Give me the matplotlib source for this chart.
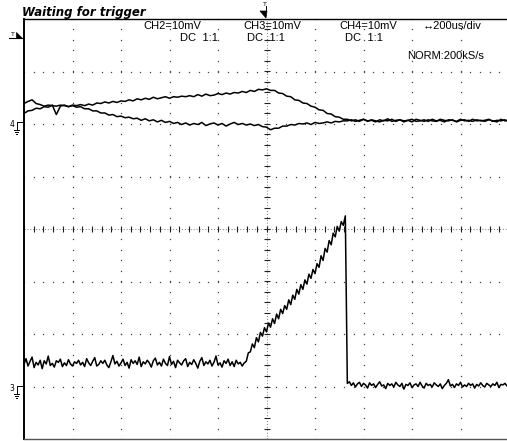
import numpy as np
import matplotlib
matplotlib.use("Agg")
import matplotlib.pyplot as plt
from matplotlib.lines import Line2D
from matplotlib.patches import Polygon

# ---- acquisition settings -------------------------------------------------
US_PER_DIV = 200          # horizontal scale, microseconds per division
MV_PER_DIV = 10           # vertical scale for every channel
CH_OFFSET_DIV = {"CH2": 2.0, "CH3": -3.0, "CH4": 2.0}   # ground levels

header_labels = ["CH2=10mV", "CH3=10mV", "CH4=10mV"]
coupling_label = "DC  1:1"
timebase_label = "\u2194200us/div"
mode_label = "NORM:200kS/s"
status_label = "Waiting for trigger"

# ---- captured samples (mV), evenly spaced over -1000 .. +1000 us -------------
ch2_mv = [
    3.9, 4.3, 4.6, 3.9, 3.7, 3.4, 3.6, 3.5, 3.4, 3.6, 3.5, 3.3, 3.6, 3.5, 3.7, 3.5, 3.8, 3.6, 4.0, 3.9,
    4.2, 4.0, 4.3, 4.1, 4.4, 4.3, 4.6, 4.4, 4.8, 4.6, 4.9, 4.7, 5.1, 4.8, 5.0, 5.2, 4.9, 5.2, 5.1, 5.3,
    5.2, 5.4, 5.2, 5.6, 5.3, 5.7, 5.4, 5.5, 5.8, 5.6, 5.9, 5.7, 6.0, 5.9, 6.2, 6.0, 6.4, 6.2, 6.6, 6.5,
    6.7, 6.4, 6.4, 5.9, 5.8, 5.3, 5.2, 4.6, 4.5, 4.0, 3.9, 3.4, 3.2, 2.7, 2.6, 2.0, 1.9, 1.4, 1.3, 0.9,
    0.9, 0.6, 0.8, 0.5, 0.9, 0.6, 0.7, 0.4, 0.8, 0.6, 1.0, 0.5, 0.7, 0.8, 0.4, 0.7, 0.9, 0.5, 0.6, 0.8,
    0.5, 0.9, 0.6, 0.7, 0.4, 0.8, 0.7, 0.5, 0.9, 0.6, 0.7, 0.5, 0.8, 0.6, 0.7, 0.9, 0.5, 0.7, 0.6, 0.8, 0.4,
]

ch4_mv = [
    2.0, 2.5, 2.6, 3.0, 2.9, 3.3, 3.2, 3.6, 1.8, 3.4, 3.6, 3.3, 3.5, 3.2, 3.3, 2.9, 2.9, 2.5, 2.5, 2.1,
    2.1, 1.7, 1.8, 1.4, 1.5, 1.2, 1.3, 1.0, 1.1, 0.7, 1.0, 0.6, 0.8, 0.4, 0.7, 0.3, 0.5, 0.1, 0.3, -0.1,
    0.2, -0.2, 0.1, -0.1, 0.3, -0.3, 0.0, 0.2, -0.2, 0.1, -0.4, 0.0, 0.3, -0.1, 0.1, -0.2, 0.0, -0.3, -0.1, -0.5,
    -0.6, -1.1, -0.8, -0.8, -0.4, -0.4, -0.1, -0.2, 0.1, 0.0, 0.2, -0.1, 0.3, 0.1, 0.2, 0.4, 0.2, 0.5, 0.4, 0.6,
    0.6, 0.8, 0.5, 0.7, 0.9, 0.5, 0.8, 0.6, 0.4, 0.7, 0.6, 0.9, 0.5, 0.8, 0.6, 0.7, 0.4, 0.9, 0.7, 0.5,
    0.8, 0.6, 0.5, 0.9, 0.7, 0.6, 0.8, 0.4, 0.7, 0.8, 0.5, 0.9, 0.6, 0.7, 0.5, 0.8, 0.6, 0.4, 0.9, 0.6, 0.7,
]

ch3_mv = [
    # quiet level before the ramp
    4.2, 5.3, 3.9, 4.8, 5.6, 3.6, 4.6, 4.1, 5.0, 3.4, 4.9, 4.3, 5.8, 4.0, 4.4, 3.7, 4.9, 4.6, 5.2, 3.8,
    4.5, 4.0, 5.1, 4.3, 3.9, 4.7, 4.4, 5.0, 4.1, 4.6, 3.8, 5.3, 4.5, 4.0, 4.8, 5.5, 3.9, 4.2, 4.9, 4.4,
    5.0, 4.1, 3.6, 4.7, 5.9, 4.3, 4.8, 3.9, 4.5, 5.2, 4.0, 4.6, 3.5, 5.1, 4.4, 4.9, 4.2, 5.6, 3.8, 4.7,
    4.3, 5.0, 4.5, 3.7, 4.9, 5.4, 4.1, 4.6, 3.9, 5.2, 4.4, 4.0, 5.7, 4.2, 4.8, 3.6, 5.0, 4.5, 4.1, 4.9,
    5.3, 3.8, 4.6, 4.2, 5.1, 4.4, 3.5, 4.8, 5.5, 4.0, 4.7, 4.3, 5.0, 3.9, 4.6, 5.8, 4.1, 4.5, 3.7, 4.9,
    4.4, 5.2, 4.0, 4.7, 3.8, 5.0, 4.3, 4.6, 3.9, 4.5,
    # ramp
    4.8, 6.4, 6.6, 8.1, 7.4, 9.3, 8.5, 10.3, 9.6, 11.2, 10.4, 12.1, 11.3, 12.9, 12.0, 13.8, 12.9, 14.7, 13.9, 15.4,
    14.7, 16.5, 15.6, 17.4, 16.6, 18.5, 17.6, 19.4, 18.5, 20.3, 19.5, 21.4, 20.6, 22.3, 21.5, 23.4, 22.7, 24.9, 24.0, 26.3,
    25.6, 27.8, 27.0, 29.2, 28.5, 30.5, 29.6, 31.4, 30.7, 32.5,
    # release
    0.6,
    0.9, 0.2, 0.7, -0.1, 0.5, 0.8, 0.0, 0.6, 0.3, -0.3, 0.7, 0.2, 0.5, -0.2, 0.4, 0.9, 0.1, 0.3, -0.4, 0.6,
    0.2, 0.5, -0.1, 0.8, 0.3, 0.0, 0.6, -0.5, 0.4, 0.2, 0.7, -0.2, 0.3, 0.5, 0.0, 0.8, 0.1, -0.3, 0.6, 0.2,
    0.4, -0.1, 0.7, 0.3, 0.0, 0.5, -0.4, 0.2, 0.6, 1.3, 0.1, 0.4, -0.2, 0.5, 0.2, 0.8, -0.1, 0.3, 0.0, 0.6,
    0.2, 0.5, -0.3, 0.4, 0.1, 0.7, 0.2, -0.1, 0.6, 0.3, 0.0, 0.5, 0.2, 0.8, -0.2, 0.4, 0.3, 0.6, 0.1, 0.4,
]

traces = {"CH2": ch2_mv, "CH4": ch4_mv, "CH3": ch3_mv}

# ---- figure -----------------------------------------------------------------
W, H = 507, 441
fig = plt.figure(figsize=(W / 100, H / 100), dpi=100)
fig.patch.set_facecolor("white")
ax = fig.add_axes([24 / W, 2 / H, 485 / W, 420 / H])
ax.set_xlim(-5, 5)
ax.set_ylim(-4, 4)
ax.set_xticks([])
ax.set_yticks([])
ax.spines["right"].set_visible(False)
ax.spines["left"].set_linewidth(1.4)
ax.spines["top"].set_linewidth(1.0)
ax.spines["bottom"].set_linewidth(1.0)
ax.spines["bottom"].set_color("#555555")


def fpt(x, y):
    """pixel position (from top-left) -> figure fraction"""
    return x / W, 1 - y / H


def fig_line(xs, ys, **kw):
    fx = [x / W for x in xs]
    fy = [1 - y / H for y in ys]
    fig.add_artist(Line2D(fx, fy, transform=fig.transFigure, **kw))


# graticule: dotted lines with a dot every fifth of a division
sub = np.arange(-5, 5.001, 0.2)
sub_y = np.arange(-4, 4.001, 0.2)
for gx in range(-4, 5):
    if gx == 0:
        continue
    ax.plot(np.full_like(sub_y, gx), sub_y, ls="none", marker="s", ms=0.9,
            mew=0, color="#444444", zorder=1)
for gy in range(-3, 4):
    if gy == 0:
        continue
    ax.plot(sub, np.full_like(sub, gy), ls="none", marker="s", ms=0.9,
            mew=0, color="#444444", zorder=1)

# centre axes with minor tick marks
ax.plot([-5, 5], [0, 0], ls=(0, (1, 2)), lw=0.7, color="#777777", zorder=1)
ax.plot([0, 0], [-4, 4], ls=(0, (1, 2)), lw=0.7, color="#777777", zorder=1)
ax.plot(sub, np.zeros_like(sub), ls="none", marker="|", ms=3.8, mew=0.8,
        color="#222222", zorder=1)
ax.plot(np.zeros_like(sub_y), sub_y, ls="none", marker="_", ms=3.8, mew=0.8,
        color="#222222", zorder=1)

# traces
for name, vals in traces.items():
    v = np.asarray(vals, dtype=float)
    t_us = np.linspace(-1000, 1000, len(v))
    ax.plot(t_us / US_PER_DIV, CH_OFFSET_DIV[name] + v / MV_PER_DIV,
            color="black", lw=1.1, zorder=3)

# ---- header texts -----------------------------------------------------------
txt_kw = dict(family=["Liberation Sans", "DejaVu Sans"], fontsize=8,
              color="black", va="baseline", ha="left")
fig.text(*fpt(22, 16), status_label, family="DejaVu Sans", fontsize=8.5,
         fontweight="bold", fontstyle="italic", va="baseline", ha="left")
fig.text(*fpt(143, 29), header_labels[0], **txt_kw)
fig.text(*fpt(180, 41), coupling_label, **txt_kw)
fig.text(*fpt(243, 29), header_labels[1], **txt_kw)
fig.text(*fpt(247, 41), coupling_label, **txt_kw)
fig.text(*fpt(339, 29), header_labels[2], **txt_kw)
fig.text(*fpt(345, 41), coupling_label, **txt_kw)
fig.text(*fpt(423, 29), timebase_label, **txt_kw)
fig.text(*fpt(407, 59), mode_label, **txt_kw)

# ---- trigger markers --------------------------------------------------------
small_kw = dict(family="DejaVu Sans", fontsize=4.5, color="black",
                ha="center", va="baseline")
fig.text(*fpt(265, 6), "T", **small_kw)
fig_line([265.5, 265.5], [6, 11], color="black", lw=0.7)
fig.add_artist(Polygon([fpt(260, 11), fpt(267, 11), fpt(266, 18)],
                       closed=True, transform=fig.transFigure,
                       facecolor="black", edgecolor="black", lw=0.5))
fig.text(*fpt(13, 36), "T", **small_kw)
fig_line([9, 22], [38, 38], color="black", lw=0.8)
fig.add_artist(Polygon([fpt(16, 32), fpt(16, 38), fpt(22, 38)],
                       closed=True, transform=fig.transFigure,
                       facecolor="black", edgecolor="black", lw=0.5))

# ---- channel ground markers -------------------------------------------------
def ground_marker(label, y):
    fig.text(*fpt(12, y + 3), label, family="DejaVu Sans", fontsize=5.5,
             ha="center", va="baseline")
    fig_line([16.5, 16.5, 22], [y + 6, y - 2, y - 2], color="black", lw=0.7)
    fig_line([14, 19], [y + 6, y + 6], color="black", lw=0.7)
    fig_line([14.8, 18.2], [y + 8, y + 8], color="black", lw=0.7)
    fig_line([15.6, 17.4], [y + 10, y + 10], color="black", lw=0.7)


ground_marker("4", 124)
ground_marker("3", 388)

fig.savefig("out.png", dpi=100, facecolor="white")
